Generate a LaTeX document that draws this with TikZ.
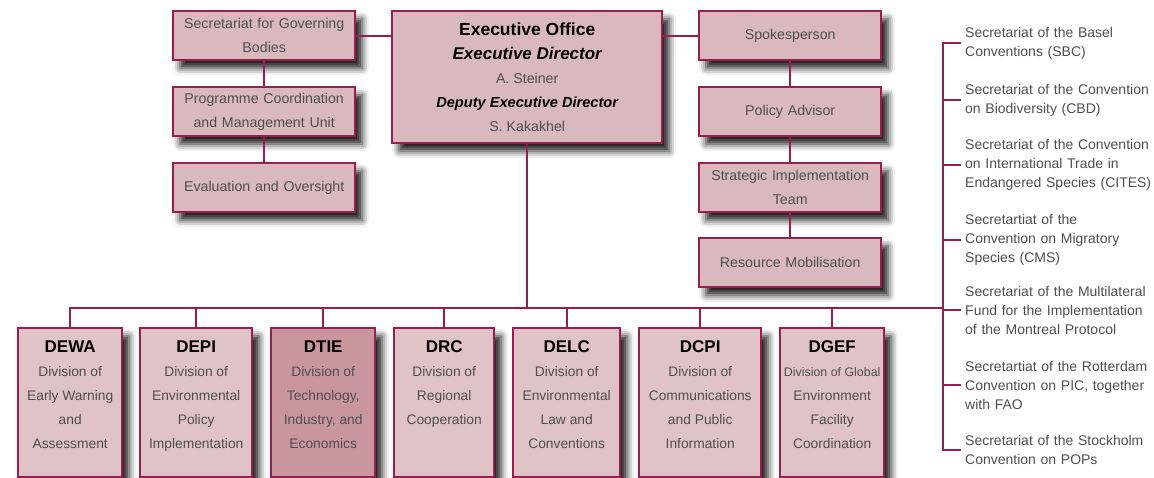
\documentclass[tikz,border=0pt]{standalone}
\usepackage{fontspec}
\setmainfont{Liberation Sans}
\usepackage{xcolor}
\usetikzlibrary{positioning}
\usetikzlibrary{shadows.blur}
\definecolor{myred}{RGB}{155, 29, 80}
\definecolor{mypink}{RGB}{217, 185, 189}
\definecolor{mylightpink}{RGB}{223, 195, 199}
\definecolor{mydarkpink}{RGB}{201, 150, 158}
\definecolor{mygrey}{RGB}{78, 78, 78}
\newcommand{\divtext}[3]{\parbox[t][124pt][t]{#1}{\centering
    {\fontsize{17}{24}\selectfont\bfseries\color{black}#2\par}
    \fontsize{13.8}{24}\selectfont #3}}

\begin{document}
\begin{tikzpicture}[
            x=1pt, y=-1pt,
            box/.style={
                rectangle,
                draw=myred,
                line width=2.4pt,
                fill=#1,
                text=mygrey,
                font=\fontsize{14.2}{24}\selectfont,
                align=center,
                inner sep=0pt,
                anchor=north west,
                blur shadow={shadow xshift=7pt, shadow yshift=-8pt,
                    shadow blur radius=7pt, shadow opacity=90}
            },
            unit/.style={box=mypink, minimum width=182pt, minimum height=49pt, text width=176pt},
            division/.style={box=mylightpink, minimum height=149pt, minimum width=#1},
            list/.style={anchor=west, align=left, text=mygrey, text width=190pt,
                inner sep=0pt, inner xsep=4pt, font=\fontsize{14}{19}\selectfont},
            link/.style={draw=myred, line width=2.4pt}
        ]
            \useasboundingbox (0,0) rectangle (1154,477);

            % Executive office
            \node[box=mypink, minimum width=270pt, minimum height=132pt] (exec) at (391,10) {
                {\fontsize{17.5}{24}\selectfont\bfseries\color{black}Executive Office}\\
                {\fontsize{17}{24}\selectfont\bfseries\itshape\color{black}Executive Director}\\
                A. Steiner\\
                {\fontsize{14.6}{24}\selectfont\bfseries\itshape\color{black}Deputy Executive Director}\\
                S. Kakakhel
            };

            % Left column
            \node[unit] (sgb) at (172,10) {Secretariat for Governing\\Bodies};
            \node[unit] (pcmu) at (172,86) {Programme Coordination\\and Management Unit};
            \node[unit] (eval) at (172,162) {Evaluation and Oversight};

            % Right column
            \node[unit] (spokes) at (698,10) {Spokesperson};
            \node[unit] (policy) at (698,86) {Policy Advisor};
            \node[unit] (sit) at (698,162) {Strategic Implementation\\Team};
            \node[unit] (resmob) at (698,237) {Resource Mobilisation};

            % Divisions
            \node[division=104pt] (dewa) at (17,327) {\divtext{100pt}{DEWA}{Division of\\Early Warning\\and\\Assessment}};
            \node[division=112pt] (depi) at (139,327) {\divtext{108pt}{DEPI}{Division of\\Environmental\\Policy\\Implementation}};
            \node[division=104pt, fill=mydarkpink] (dtie) at (270,327) {\divtext{100pt}{DTIE}{Division of\\Technology,\\Industry, and\\Economics}};
            \node[division=100pt] (drc) at (393,327) {\divtext{96pt}{DRC}{Division of\\Regional\\Cooperation}};
            \node[division=107pt] (delc) at (512,327) {\divtext{103pt}{DELC}{Division of\\Environmental\\Law and\\Conventions}};
            \node[division=122pt] (dcpi) at (638,327) {\divtext{118pt}{DCPI}{Division of\\Communications\\and Public\\Information}};
            \node[division=104pt] (dgef) at (779,327) {\divtext{100pt}{DGEF}{\makebox[\linewidth]{\fontsize{12.4}{24}\selectfont Division of Global}\\Environment\\Facility\\Coordination}};

            % Convention secretariats
            \node[list] (sbc) at (961,43) {Secretariat of the Basel\\Conventions (SBC)};
            \node[list] (cbd) at (961,100) {Secretariat of the Convention\\on Biodiversity (CBD)};
            \node[list] (cites) at (961,165) {Secretariat of the Convention\\on International Trade in\\Endangered Species (CITES)};
            \node[list] (cms) at (961,240) {Secretartiat of the\\Convention on Migratory\\Species (CMS)};
            \node[list] (mlf) at (961,310) {Secretariat of the Multilateral\\Fund for the Implementation\\of the Montreal Protocol};
            \node[list] (pic) at (961,385) {Secretartiat of the Rotterdam\\Convention on PIC, together\\with FAO};
            \node[list] (pops) at (961,450) {Secretariat of the Stockholm\\Convention on POPs};

            \coordinate (trunk) at (943,308);

            % Lines
            \draw[link] (sgb.east) -- (sgb.east -| exec.west);
            \draw[link] (spokes.west) -- (spokes.west -| exec.east);
            \draw[link] (sgb) -- (pcmu);
            \draw[link] (pcmu) -- (eval);
            \draw[link] (spokes) -- (policy);
            \draw[link] (policy) -- (sit);
            \draw[link] (sit) -- (resmob);
            \draw[link] (exec.south) -- (exec.south |- trunk);

            \draw[link] (dewa.north) |- (trunk);
            \foreach \d in {depi, dtie, drc, delc, dcpi, dgef}
                \draw[link] (\d.north) -- (\d.north |- trunk);

            \draw[link] (sbc.west) -| (trunk) |- (pops.west);
            \foreach \s in {cbd, cites, cms, mlf, pic}
                \draw[link] (\s.west) -- (\s.west -| trunk);
        \end{tikzpicture}
\end{document}
